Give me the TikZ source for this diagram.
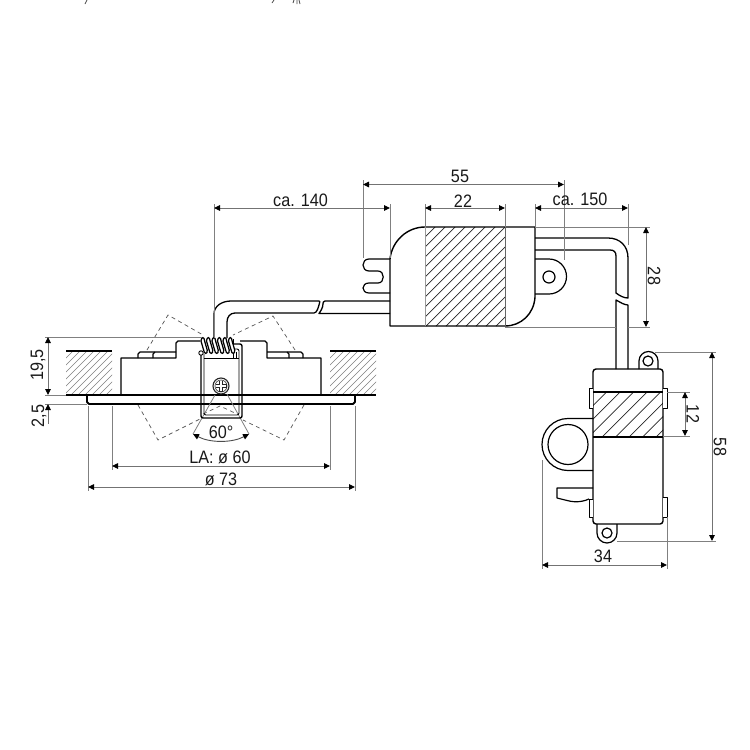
\documentclass[tikz,border=0pt]{standalone}
\usepackage{fontspec}
\setmainfont[FakeStretch=0.9]{Liberation Sans}
\usetikzlibrary{arrows.meta}
\newcommand{\hatchbox}[6]{%
  \begin{scope}
    \clip (#1,#2) rectangle (#3,#4);
    \pgfmathsetmacro{\hstart}{#1-(#4-#2)}
    \pgfmathsetmacro{\hnext}{\hstart+#5}
    \pgfmathsetmacro{\hh}{#4-#2}
    \foreach \hx in {\hstart,\hnext,...,#3} {
      \draw[#6] (\hx,#4) -- ++(\hh,-\hh);
    }
  \end{scope}}
\tikzset{
  obj/.style={draw=black,line width=1.2pt,line join=round},
  heavy/.style={draw=black,line width=1.8pt,line join=round},
  extl/.style={draw=black!50,line width=0.8pt},
  diml/.style={draw=black!55,line width=0.9pt,{Triangle[length=6pt,width=5.5pt,color=black]}-{Triangle[length=6pt,width=5.5pt,color=black]}},
  dimone/.style={draw=black!55,line width=0.9pt,{Triangle[length=6pt,width=5.5pt,color=black]}-},
  dashl/.style={draw=black!65,line width=0.7pt,dash pattern=on 4pt off 3.5pt},
  lbl/.style={font=\fontsize{18}{20}\selectfont,text=black!90,inner sep=0pt},
  wallh/.style={draw=black!50,line width=0.6pt},
  boxh/.style={draw=black!85,line width=0.7pt}
}
\begin{document}
\begin{tikzpicture}[x=1pt,y=-1pt]
\useasboundingbox (0,0) rectangle (750,750);
\fill[white] (0,0) rectangle (750,750);
% stray marks at the top edge
\draw[line width=0.8pt,black!70] (85,4) -- (87,0) (272,3) -- (274,0) (293,3) -- (294,0) (297,4) -- (297,0) (300,4) -- (299,0);

% ---- ceiling walls
\hatchbox{66}{351}{112}{395}{7}{wallh}
\hatchbox{330}{351}{376}{395}{7}{wallh}
\draw[heavy] (66,351) -- (112,351);
\draw[heavy] (330,351) -- (376,351);
\draw[heavy] (66,395) -- (376,395);

% ---- dashed swivel outline
\draw[dashl] (147,350) -- (168,315) -- (203,335);
\draw[dashl] (138,405) -- (158,440) -- (202,418);
\draw[dashl] (295,350) -- (273,316) -- (233,335);
\draw[dashl] (304,405) -- (284,440) -- (243,420);
\draw[dashl] (203,414) -- (220,406) -- (237,414);

% ---- lamp body
\draw[obj,line width=1.3pt] (121,395) -- (121,358) -- (176,358) -- (176,343) to[out=-90,in=180] (178,341) -- (200,341);
\draw[obj,line width=1.3pt] (321,395) -- (321,358) -- (267,358) -- (267,343) to[out=-90,in=0] (265,341) -- (240,341);
\draw[obj] (138,358) -- (138,354) to[out=-90,in=180] (140,352) -- (176,352);
\draw[obj] (153,358) -- (153,354) to[out=-90,in=180] (155,352);
\draw[obj] (303,358) -- (303,354) to[out=-90,in=0] (301,352) -- (267,352);
\draw[obj] (289,358) -- (289,354) to[out=-90,in=0] (287,352);
% flange
\draw[heavy] (87,395) -- (87,402) to[out=90,in=180] (89,404) -- (353,404) to[out=0,in=90] (355,402) -- (355,395);

% ---- angle lines
\coordinate (ang0l) at (215,395);
\coordinate (ang0r) at (227,394);
\coordinate (ang1) at (193,434);
\coordinate (ang2) at (249,434);
\draw[extl] (ang0l) -- (ang1);
\draw[extl] (ang0r) -- (ang2);
\draw[diml,black!70] (ang1) .. controls (210,443) and (232,443) .. (ang2);

% ---- spring clip
\draw[heavy,line width=1.4pt,rounded corners=2pt] (201,354) -- (201,418) -- (242,418) -- (242,344) -- (234,344);
\draw[obj,line width=0.9pt,rounded corners=2pt] (204,354) -- (204,415) -- (239,415) -- (239,349) -- (234,349);
\draw[obj,line width=0.9pt] (204,358.5) -- (239,358.5);
\draw[obj,fill=white,line width=0.9pt] (201,353) circle (2.2);
\draw[obj,line width=1.2pt] (233.5,339) -- (233.5,358);
\draw[obj,line width=0.9pt] (236,352) -- (236,358.5);

% ---- screw
\draw[draw=black!85,fill=white,line width=1.1pt] (221,386) circle (8);
\draw[draw=black!70,line width=0.7pt] (221,386) circle (6);
\draw[black!85,line width=3.6pt] (215.5,386) -- (226.5,386) (221,380.5) -- (221,391.5);
\draw[white,line width=1.6pt] (216.2,386) -- (225.8,386) (221,381.2) -- (221,390.8);

% ---- first wire
\draw[obj,line width=1.3pt] (214,338) -- (214,314) .. controls (214,306) and (222,301) .. (231,301) -- (319,301) .. controls (320,301) and (320,302) .. (319.5,303) .. controls (318.5,307) and (317,313) .. (314,313) -- (235,313) .. controls (230,313) and (227,317) .. (227,322) -- (227,338);
\draw[obj,line width=1.3pt] (390,301) -- (325,301) .. controls (323,301) and (323,303) .. (323,304) .. controls (323,308) and (320,312) .. (319,313.5) -- (390,313.5);

% ---- coil
\foreach \i in {0,...,5} {
  \pgfmathsetmacro{\cx}{201+5.5*\i}
  \draw[black,line width=1.25pt,fill=white] (\cx,341) .. controls (\cx+0.3,336.5) and (\cx+3.4,336.5) .. (\cx+3.6,341) -- (\cx+6.2,350) .. controls (\cx+6.8,354.5) and (\cx+3,354.5) .. (\cx+2.6,350) -- cycle;
}

% ---- driver box
\hatchbox{425}{227}{505}{326}{10}{boxh}
\draw[heavy,line width=1.4pt] (425,227) -- (535,227) -- (535,297) .. controls (534,314) and (521,326) .. (505,326) -- (390,326) -- (390,259) .. controls (392,241) and (407,227) .. (425,227) -- cycle;
\draw[black!40,line width=0.7pt] (425,227) -- (425,326);
\draw[black!60,line width=0.7pt] (505,227) -- (505,326);
% plug fork
\draw[obj] (390,259) -- (369,259) .. controls (361,259) and (361,271) .. (369,271) -- (378,271) .. controls (385,271) and (385,283) .. (378,283) -- (369,283) .. controls (361,283) and (361,293) .. (369,293) -- (390,293);
% eyelet of the box
\draw[obj] (535,259) -- (549,259) arc[start angle=-90,end angle=90,radius=17.5] -- (535,294);
\draw[obj] (549,277) circle (6);

% ---- second wire
\draw[obj,line width=1.3pt] (535,238) -- (608,238) .. controls (620,238) and (628,246) .. (628,258) -- (628,298) .. controls (624,298) and (620,296) .. (616,293) -- (616,256) .. controls (616,252) and (614,250) .. (610,250) -- (535,250);
\draw[obj,line width=1.3pt] (616,369) -- (616,300) .. controls (620,302) and (624,305) .. (628,305) -- (628,369);

% ---- connection block
\hatchbox{593}{392}{663}{437}{13.5}{boxh}
\draw[obj,line width=1.4pt,rounded corners=3pt] (593,524) -- (593,369) -- (663,369) -- (663,524) -- cycle;
\draw[heavy,line width=1.3pt] (593,392) -- (663,392);
\draw[heavy,line width=1.3pt] (593,437) -- (663,437);
% top eyelet
\draw[obj] (639,369) -- (639,361) arc[start angle=180,end angle=360,radius=9.5] -- (658,369);
\draw[obj] (648,361) circle (5);
% bottom eyelet
\draw[obj] (597,524) -- (597,533) arc[start angle=180,end angle=0,radius=10] -- (617,524);
\draw[obj] (607,533) circle (5);
% clips
\draw[obj,fill=white,line width=1pt] (593,388) -- (589,388) -- (589,408) -- (593,408);
\draw[obj,fill=white,line width=1pt] (663,388) -- (667,388) -- (667,408) -- (663,408);
\draw[obj,fill=white,line width=1pt] (593,499) -- (589,499) -- (589,517) -- (593,517);
\draw[obj,fill=white,line width=1pt] (663,497) -- (667,497) -- (667,517) -- (663,517);
% ring
\draw[obj] (593,418.5) -- (568,418.5) arc[start angle=-90,end angle=-270,radius=26] -- (593,470.5);
\draw[obj] (568,444.5) circle (20);
% tab
\draw[obj] (593,488) -- (557,488) -- (557,498) -- (565,500) .. controls (572,502) and (580,503) .. (589,499);

% ---- extension lines
\draw[extl] (45,337) -- (202,337);
\draw[extl] (45,395) -- (66,395);
\draw[extl] (45,404) -- (87,404);
\draw[extl] (112,406) -- (112,470);
\draw[extl] (330,406) -- (330,470);
\draw[extl] (88,406) -- (88,491);
\draw[extl] (355,406) -- (355,491);
\draw[extl] (214,204) -- (214,338);
\draw[extl] (390,204) -- (390,258);
\draw[extl] (363,180) -- (363,258);
\draw[extl] (425,204) -- (425,227);
\draw[extl] (505,204) -- (505,227);
\draw[extl] (535,204) -- (535,227);
\draw[extl] (628,204) -- (628,245);
\draw[extl] (564,180) -- (564,260);
\draw[extl] (535,227) -- (650,227);
\draw[extl] (505,327) -- (616,327) (628,327) -- (650,327);
\draw[extl] (655,352) -- (716,352);
\draw[extl] (617,541) -- (716,541);
\draw[extl] (667,392) -- (690,392);
\draw[extl] (663,436) -- (690,436);
\draw[extl] (542,460) -- (542,569);
\draw[extl] (667,517) -- (667,569);

% ---- dimension lines
\coordinate (a55) at (363,184.5); \coordinate (b55) at (564,184.5);
\coordinate (a140) at (214,208); \coordinate (b140) at (390,208);
\coordinate (a22) at (425,208); \coordinate (b22) at (505,208);
\coordinate (a150) at (535,208); \coordinate (b150) at (628,208);
\coordinate (a28) at (646,227); \coordinate (b28) at (646,327);
\coordinate (a58) at (712,352); \coordinate (b58) at (712,541);
\coordinate (a12) at (685,392); \coordinate (b12) at (685,436);
\coordinate (a34) at (542,565); \coordinate (b34) at (667,565);
\coordinate (a195) at (48,337); \coordinate (b195) at (48,395);
\coordinate (a25) at (48,404); \coordinate (b25) at (48,424);
\coordinate (a60) at (112,466); \coordinate (b60) at (330,466);
\coordinate (a73) at (88,487); \coordinate (b73) at (355,487);
\draw[diml] (a55) -- (b55);
\draw[diml] (a140) -- (b140);
\draw[diml] (a22) -- (b22);
\draw[diml] (a150) -- (b150);
\draw[diml] (a28) -- (b28);
\draw[diml] (a58) -- (b58);
\draw[diml] (a12) -- (b12);
\draw[diml] (a34) -- (b34);
\draw[diml] (a195) -- (b195);
\draw[dimone] (a25) -- (b25);
\draw[diml] (a60) -- (b60);
\draw[diml] (a73) -- (b73);

% ---- labels
\node[lbl] (t55) at (460,176) {55};
\node[lbl] (t140) at (300.5,200) {ca. 140};
\node[lbl] (t22) at (463,201) {22};
\node[lbl] (t150) at (580,199) {ca. 150};
\node[lbl,rotate=-90] (t28) at (654,276) {28};
\node[lbl,rotate=-90] (t58) at (720,447) {58};
\node[lbl,rotate=-90] (t12) at (693,414) {12};
\node[lbl] (t34) at (603,556) {34};
\node[lbl,rotate=90] (t195) at (38,365) {19,5};
\node[lbl,rotate=90] (t25) at (39,416) {2,5};
\node[lbl] (t60deg) at (221,432) {60°};
\node[lbl] (tla) at (220,457) {LA: ø 60};
\node[lbl] (t73) at (221,479) {ø 73};
\end{tikzpicture}
\end{document}
